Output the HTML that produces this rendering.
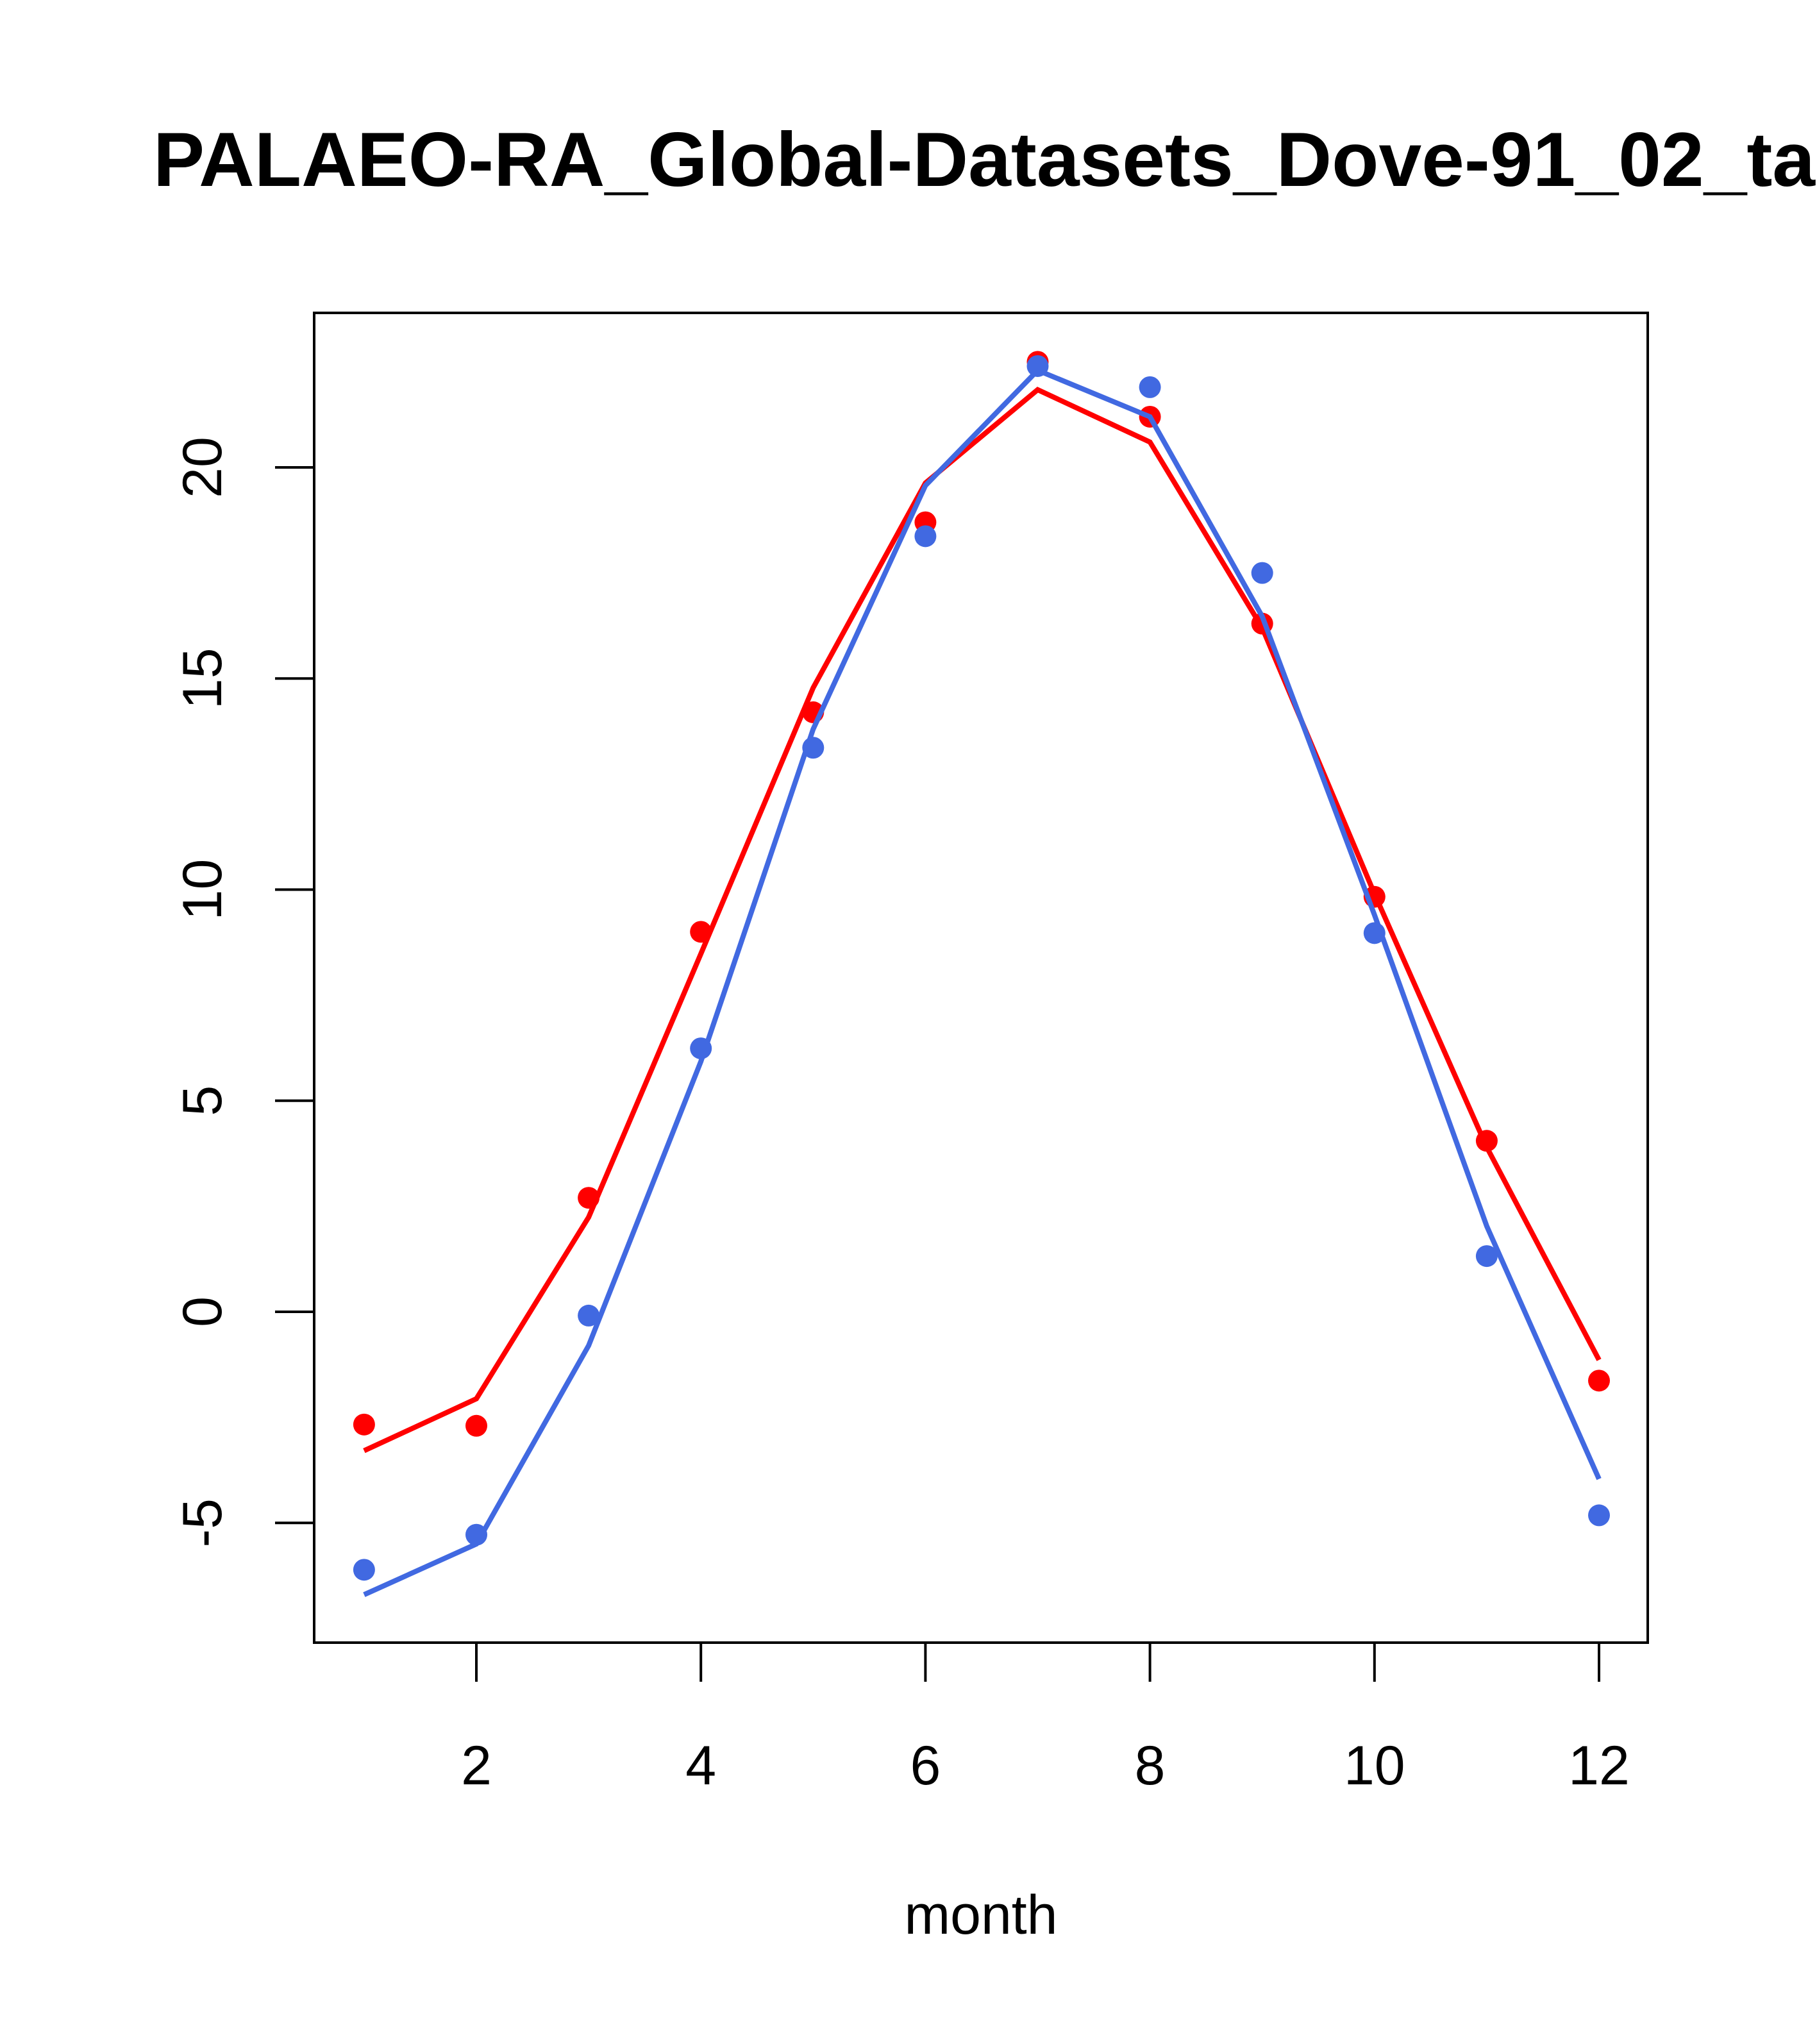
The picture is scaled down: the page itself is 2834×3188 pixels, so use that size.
<!DOCTYPE html>
<html><head><meta charset="utf-8"><style>body{margin:0;background:#fff;overflow:hidden}svg{display:block}</style></head>
<body>
<svg id="chart" width="2834" height="3188" viewBox="0 0 2834 3188" xmlns="http://www.w3.org/2000/svg" font-family="Liberation Sans, sans-serif">
<text x="239" y="290" font-size="120" font-weight="bold">PALAEO-RA_Global-Datasets_Dove-91_02_tas</text>
<rect x="490" y="488" width="2080" height="2074" fill="none" stroke="#000" stroke-width="4"/>
<g id="axes"></g>
<g id="marks"></g>
<text x="1530" y="3016" font-size="86" text-anchor="middle">month</text>
</svg>
<script>
const months=[1,2,3,4,5,6,7,8,9,10,11,12];
const redPoints=[-2.67,-2.7,2.7,9.0,14.2,18.7,22.5,21.2,16.3,9.83,4.05,-1.63];
const redLine=[-3.29,-2.06,2.24,8.48,14.78,19.63,21.84,20.6,16.2,9.9,3.9,-1.14];
const bluePoints=[-6.11,-5.28,-0.09,6.24,13.36,18.37,22.4,21.9,17.5,8.97,1.32,-4.82];
const blueLine=[-6.7,-5.5,-0.8,5.93,13.8,19.57,22.3,21.2,16.47,9.4,2.03,-3.96];
const xTicks=[2,4,6,8,10,12];
const yTicks=[-5,0,5,10,15,20];
const NS="http://www.w3.org/2000/svg";
function xs(m){return 743+(m-2)*(2494-743)/10;}
function ys(v){return 2046-v*(2046-729)/20;}
function mk(t,a,p){const e=document.createElementNS(NS,t);for(const k in a)e.setAttribute(k,a[k]);p.appendChild(e);return e;}
const axes=document.getElementById('axes'),marks=document.getElementById('marks');
xTicks.forEach(t=>{
 const l=mk('line',{x1:xs(t),x2:xs(t),y1:2562,y2:2623,stroke:'#000','stroke-width':4},axes);
 
 
 const tx=mk('text',{x:xs(t),y:2783,'font-size':86,'text-anchor':'middle'},axes);tx.textContent=t;
 
 
});
yTicks.forEach(t=>{
 const l=mk('line',{x1:429,x2:490,y1:ys(t),y2:ys(t),stroke:'#000','stroke-width':4},axes);
 
 
 const tx=mk('text',{x:0,y:0,'font-size':86,'text-anchor':'middle',transform:`translate(345,${ys(t)}) rotate(-90)`},axes);tx.textContent=t;
 
 
});
function series(line,pts,col,name){
 const pl=mk('polyline',{points:months.map((m,i)=>xs(m)+','+ys(line[i])).join(' '),fill:'none',stroke:col,'stroke-width':8},marks);
 
 
 months.forEach((m,i)=>{
  const c=mk('circle',{cx:xs(m),cy:ys(pts[i]),r:17,fill:col},marks);
  
  
 });
}
series(redLine,redPoints,'#ff0000','red');
series(blueLine,bluePoints,'#4169e1','blue');
</script>
</body></html>
